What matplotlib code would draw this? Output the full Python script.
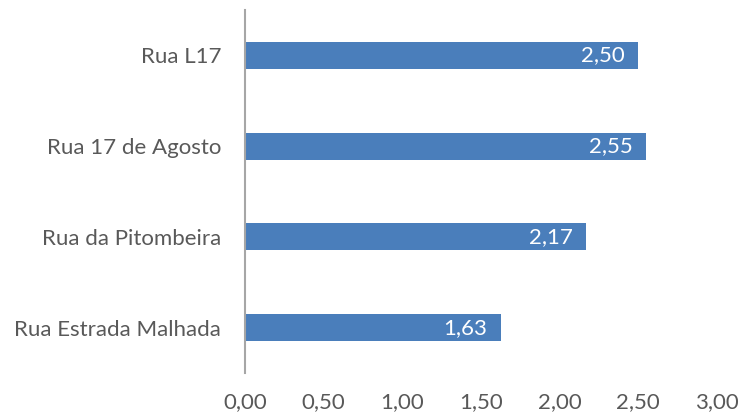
import matplotlib.pyplot as plt

streets = ["Rua Estrada Malhada", "Rua da Pitombeira", "Rua 17 de Agosto", "Rua L17"]
values = [1.63, 2.17, 2.55, 2.50]
xticks = [0, 0.5, 1.0, 1.5, 2.0, 2.5, 3.0]

plt.rcParams['font.family'] = ['Lato', 'DejaVu Sans']

fig = plt.figure(figsize=(7.41, 4.17), dpi=100)
ax = fig.add_axes([0.3306, 0.1055, 0.6370, 0.8705])

bars = ax.barh(range(len(streets)), values, height=0.30, color='#4a7ebb')

for i, v in enumerate(values):
    ax.annotate(f"{v:.2f}".replace('.', ','), xy=(v, i), xytext=(-10, 0),
                textcoords='offset points', ha='right', va='center',
                color='white', fontsize=16)

ax.set_xlim(0, 3)
ax.set_ylim(-0.5, len(streets) - 0.5)
ax.set_yticks(range(len(streets)))
ax.set_yticklabels(streets)
ax.set_xticks(xticks)
ax.set_xticklabels([f"{t:.2f}".replace('.', ',') for t in xticks])

for s in ['top', 'right', 'bottom']:
    ax.spines[s].set_visible(False)
ax.spines['left'].set_color('#a6a6a6')
ax.spines['left'].set_linewidth(1.5)

ax.tick_params(axis='both', length=0, labelsize=16, labelcolor='#595959')
ax.tick_params(axis='y', pad=17)
ax.tick_params(axis='x', pad=14)

fig.savefig('out.png', dpi=100)
